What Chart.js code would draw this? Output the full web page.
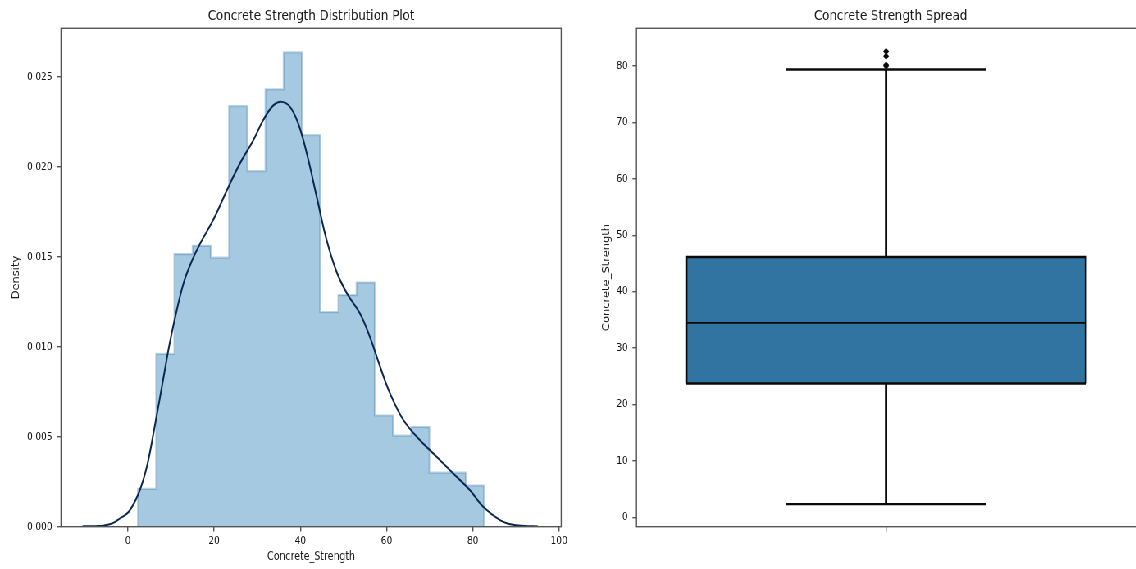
<!DOCTYPE html>
<html>
<head>
<meta charset="utf-8">
<script src="https://cdn.jsdelivr.net/npm/chart.js@4.4.0/dist/chart.umd.min.js"></script>
<style>
  html, body { margin: 0; padding: 0; background: #fff; overflow: hidden; width: 1136px; height: 569px; }
  /* the reference is squeezed horizontally, so draw wider and squeeze */
  #wrap { position: absolute; left: 0; top: 0; width: 1400px; height: 569px; transform: scaleX(0.82); transform-origin: 0 0; }
  #leftBox { position: absolute; left: 0; top: 0; width: 700px; height: 569px; }
  #rightBox { position: absolute; left: 700px; top: 0; width: 700px; height: 569px; }
</style>
</head>
<body>
<div id="wrap">
  <div id="leftBox"><canvas id="distChart" width="700" height="569"></canvas></div>
  <div id="rightBox"><canvas id="boxChart" width="700" height="569"></canvas></div>
</div>
<script>
// ---- distribution plot data ----
const binEdges = [2.33, 6.56, 10.78, 15.01, 19.23, 23.46, 27.68, 31.91, 36.13, 40.36,
                  44.58, 48.81, 53.03, 57.26, 61.48, 65.71, 69.93, 74.16, 78.38, 82.60];
const binDensity = [0.00210, 0.00960, 0.01515, 0.01561, 0.01495, 0.02337, 0.01976, 0.02431, 0.02636, 0.02176,
                    0.01193, 0.01287, 0.01357, 0.00618, 0.00506, 0.00554, 0.00300, 0.00300, 0.00229];
const kdeX = [-10.5, -7.5, -5.6, -3.5, -1.8, 0.2, 2.5, 4.4, 6.35, 8.3, 9.4, 11.0, 13.0, 14.9, 16.8,
              19.9, 23.0, 26.0, 29.1, 31.4, 33.8, 35.7, 37.6, 39.5, 41.5, 43.8, 46.1, 48.4, 50.8,
              53.8, 56.1, 58.5, 60.8, 63.9, 67.7, 71.6, 75.4, 79.3, 82.4, 86.3, 89.0, 92.0, 95.1];
const kdeY = [0.00002, 0.00003, 0.00006, 0.00020, 0.00047, 0.00083, 0.00186, 0.00333, 0.00574, 0.00833,
              0.00982, 0.01167, 0.01360, 0.01480, 0.01575, 0.01710, 0.01871, 0.02019, 0.02148, 0.02260,
              0.02343, 0.02361, 0.02333, 0.02241, 0.02074, 0.01833, 0.01593, 0.01417, 0.01297, 0.01186,
              0.01056, 0.00889, 0.00741, 0.00593, 0.00482, 0.00389, 0.00297, 0.00204, 0.00111, 0.00037,
              0.00012, 0.00004, 0.00001];
const distXTicks = [0, 20, 40, 60, 80, 100];
const distYTicks = [0, 0.005, 0.010, 0.015, 0.020, 0.025];

// ---- spread (box plot) data ----
const q1 = 23.71;
const median = 34.45;
const q3 = 46.14;
const whiskerLow = 2.33;
const whiskerHigh = 79.4;
const outliers = [79.99, 80.2, 81.75, 82.6];
const spreadXTicks = [0];
const spreadYTicks = [0, 10, 20, 30, 40, 50, 60, 70, 80];

// box geometry (in x-axis units), not data
const boxHalf = 0.4;
const capHalf = 0.2;

Chart.defaults.font.family = "'DejaVu Sans', sans-serif";
Chart.defaults.font.size = 10.8;
Chart.defaults.color = '#111';
Chart.defaults.animation = false;
Chart.defaults.plugins.legend.display = false;
Chart.defaults.plugins.tooltip.enabled = false;

const spineColor = '#555';

// matplotlib-like frame around the plot area
const framePlugin = {
  id: 'frame',
  afterDraw(chart) {
    const a = chart.chartArea;
    const ctx = chart.ctx;
    ctx.save();
    ctx.strokeStyle = spineColor;
    ctx.lineWidth = 1.4;
    ctx.strokeRect(a.left, a.top, a.right - a.left, a.bottom - a.top);
    ctx.restore();
  }
};

function titleOpts(text) {
  return {
    display: true,
    fullSize: false,
    text: text,
    color: '#1a1a1a',
    font: { size: 14.4, weight: 'normal', lineHeight: 1.2 },
    padding: { top: 7.4, bottom: 3.6 }
  };
}

function tickGrid() {
  return { drawOnChartArea: false, drawTicks: true, tickLength: 4.9, color: spineColor, lineWidth: 1.4 };
}

function axisTitle(text, pad) {
  return { display: true, text: text, color: '#1a1a1a', font: { size: 11.5, lineHeight: 1.2 }, padding: pad };
}

// histogram outline as a stepped filled line
const histPoints = [{ x: binEdges[0], y: 0 }];
binDensity.forEach((d, i) => histPoints.push({ x: binEdges[i], y: d }));
histPoints.push({ x: binEdges[binEdges.length - 1], y: binDensity[binDensity.length - 1] });
histPoints.push({ x: binEdges[binEdges.length - 1], y: 0 });

const kdePoints = kdeX.map((x, i) => ({ x: x, y: kdeY[i] }));

new Chart(document.getElementById('distChart'), {
  type: 'line',
  data: {
    datasets: [
      {
        label: 'kde',
        data: kdePoints,
        borderColor: '#0c2551',
        borderWidth: 2,
        pointRadius: 0,
        tension: 0.4,
        fill: false,
        order: 0
      },
      {
        label: 'hist',
        data: histPoints,
        stepped: true,
        borderColor: 'rgba(50,115,165,0.32)',
        borderWidth: 2.2,
        backgroundColor: 'rgba(31,119,180,0.4)',
        fill: 'origin',
        pointRadius: 0,
        order: 1
      }
    ]
  },
  options: {
    responsive: false,
    layout: { padding: { left: 0, right: 15.6, top: 0, bottom: 0 } },
    plugins: { title: titleOpts('Concrete Strength Distribution Plot') },
    scales: {
      x: {
        type: 'linear',
        min: -15.5,
        max: 100.5,
        border: { display: false },
        grid: tickGrid(),
        afterBuildTicks: s => { s.ticks = distXTicks.map(v => ({ value: v })); },
        afterFit: s => { s.height = 42.3; },
        ticks: { padding: 3, maxRotation: 0 },
        title: axisTitle('Concrete_Strength', { top: 0, bottom: 5.4 })
      },
      y: {
        type: 'linear',
        min: 0,
        max: 0.0277,
        border: { display: false },
        grid: tickGrid(),
        afterBuildTicks: s => { s.ticks = distYTicks.map(v => ({ value: v })); },
        afterFit: s => { s.width = 74.4; },
        ticks: { padding: 5.7, callback: v => v.toFixed(3) },
        title: axisTitle('Density', { top: 13.1, bottom: 0 })
      }
    }
  },
  plugins: [framePlugin]
});

const black = '#0a0a0a';
function segment(points, width, order) {
  return {
    data: points,
    borderColor: black,
    borderWidth: width,
    pointRadius: 0,
    fill: false,
    order: order
  };
}

new Chart(document.getElementById('boxChart'), {
  type: 'line',
  data: {
    datasets: [
      segment([{ x: -boxHalf, y: median }, { x: boxHalf, y: median }], 1.8, 0),
      segment([{ x: 0, y: q3 }, { x: 0, y: whiskerHigh }], 2.8, 1),
      segment([{ x: 0, y: q1 }, { x: 0, y: whiskerLow }], 2.8, 1),
      segment([{ x: -capHalf, y: whiskerHigh }, { x: capHalf, y: whiskerHigh }], 2.4, 1),
      segment([{ x: -capHalf, y: whiskerLow }, { x: capHalf, y: whiskerLow }], 2.4, 1),
      segment([{ x: -boxHalf, y: q1 }, { x: boxHalf, y: q1 }], 2.4, 2),
      {
        data: outliers.map(v => ({ x: 0, y: v })),
        showLine: false,
        pointStyle: 'rectRot',
        pointRadius: 3.6,
        pointBackgroundColor: black,
        pointBorderColor: black,
        pointBorderWidth: 0,
        order: 0
      },
      {
        // box body: outline of the box, filled down to q1
        data: [{ x: -boxHalf, y: q1 }, { x: -boxHalf, y: q3 }, { x: boxHalf, y: q3 }, { x: boxHalf, y: q1 }],
        borderColor: black,
        borderWidth: 2.6,
        borderJoinStyle: 'miter',
        backgroundColor: '#3274a1',
        fill: { value: q1 },
        pointRadius: 0,
        tension: 0,
        order: 5
      }
    ]
  },
  options: {
    responsive: false,
    layout: { padding: { left: 0, right: 2, top: 0, bottom: 0 } },
    plugins: { title: titleOpts('Concrete Strength Spread') },
    scales: {
      x: {
        type: 'linear',
        // the right spine falls just past the picture edge
        min: -0.5,
        max: 0.518,
        offset: false,
        border: { display: false },
        grid: tickGrid(),
        afterBuildTicks: s => { s.ticks = spreadXTicks.map(v => ({ value: v })); },
        afterFit: s => { s.height = 42.3; },
        ticks: { padding: 3, callback: () => '' }
      },
      y: {
        type: 'linear',
        min: -1.68,
        max: 86.7,
        border: { display: false },
        grid: tickGrid(),
        afterBuildTicks: s => { s.ticks = spreadYTicks.map(v => ({ value: v })); },
        afterFit: s => { s.width = 76.2; },
        ticks: { padding: 5.7 },
        title: axisTitle('Concrete_Strength', { top: 32.9, bottom: 0 })
      }
    }
  },
  plugins: [framePlugin]
});
</script>
</body>
</html>
